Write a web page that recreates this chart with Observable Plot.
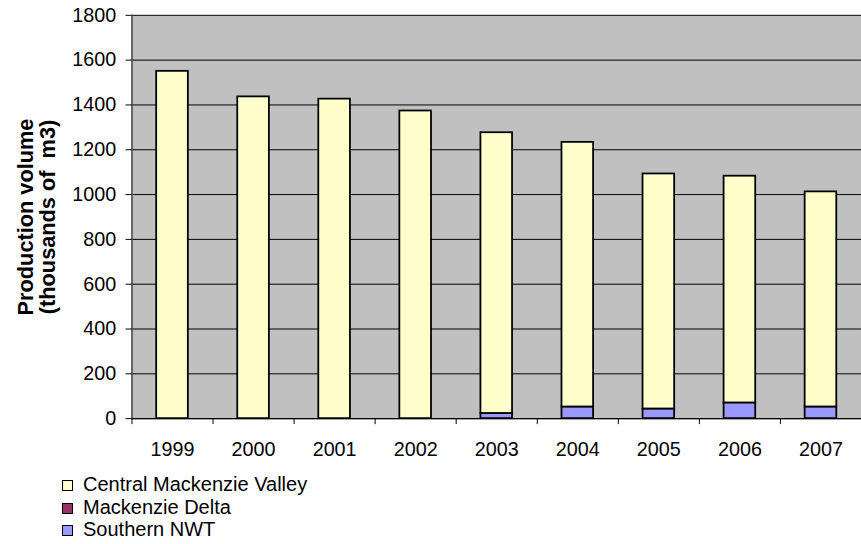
<!DOCTYPE html>
<html>
<head>
<meta charset="utf-8">
<script src="https://cdn.jsdelivr.net/npm/d3@7"></script>
<script src="https://cdn.jsdelivr.net/npm/@observablehq/plot@0.6"></script>
<style>
  html, body { margin: 0; padding: 0; background: #fff; overflow: hidden; }
  #wrap { position: relative; width: 861px; height: 544px; overflow: hidden; font-family: "Liberation Sans", Arial, sans-serif; }
  #chart { position: absolute; left: 0; top: 0; }
  #legend { position: absolute; left: 62px; top: 473px; font-size: 20px; line-height: 22.5px; color: #000; }
  .row { display: flex; align-items: baseline; white-space: nowrap; }
  .sw { display: inline-block; width: 9px; height: 9px; border: 1.2px solid #000; margin-right: 10px; }
</style>
</head>
<body>
<div id="wrap">
  <div id="chart"></div>
  <div id="legend"></div>
</div>
<script>
const years = ["1999", "2000", "2001", "2002", "2003", "2004", "2005", "2006", "2007"];
const centralValley = [1550, 1436, 1426, 1373, 1253, 1181, 1049, 1012, 960];
const mackenzieDelta = [0, 0, 0, 0, 0, 0, 0, 0, 0];
const southernNWT = [0, 0, 0, 0, 23, 52, 43, 70, 52];
const seriesNames = ["Central Mackenzie Valley", "Mackenzie Delta", "Southern NWT"];
const seriesColors = ["#FFFFCC", "#993366", "#9999FF"];
const stackOrder = ["Southern NWT", "Mackenzie Delta", "Central Mackenzie Valley"];
const yTicks = [0, 200, 400, 600, 800, 1000, 1200, 1400, 1600, 1800];
const yTitle = "Production volume\n(thousands of  m3)";

const seriesValues = {
  "Central Mackenzie Valley": centralValley,
  "Mackenzie Delta": mackenzieDelta,
  "Southern NWT": southernNWT
};
const data = years.flatMap((year, i) =>
  stackOrder.map(series => ({year, series, value: seriesValues[series][i]}))
);

const chart = Plot.plot({
  width: 871,
  height: 470,
  marginLeft: 133,
  marginRight: 0,
  marginTop: 15,
  marginBottom: 47,
  style: {fontFamily: "'Liberation Sans', Arial, sans-serif", fontSize: "20px", background: "transparent", color: "#000", overflow: "visible"},
  x: {domain: years, paddingInner: 0.61, paddingOuter: 0.305, axis: null},
  y: {domain: [0, 1800], axis: null},
  color: {domain: seriesNames, range: seriesColors},
  marks: [
    Plot.frame({fill: "#C0C0C0"}),
    Plot.gridY(yTicks, {stroke: "#000", strokeOpacity: 1, strokeWidth: 1}),
    Plot.barY(data, {x: "year", y: "value", fill: "series", stroke: "#000", strokeWidth: 1.8, order: stackOrder}),
    Plot.ruleX([years[0]], {dx: -41, y1: 0, y2: 1800, stroke: "#404040", strokeWidth: 1.5}),
    Plot.ruleY([0], {stroke: "#000", strokeWidth: 1.2}),
    Plot.axisY(yTicks, {tickSize: 6, tickPadding: 10, label: null, stroke: "#000", fontSize: 20, tickFormat: d => String(d)}),
    Plot.axisX({tickSize: 6, tickFormat: () => "", dx: -41, label: null, stroke: "#000"}),
    Plot.axisX({tickSize: 0, tickPadding: 24, label: null, fontSize: 20}),
    Plot.text([yTitle], {frameAnchor: "left", dx: -96, rotate: -90, fontWeight: "bold", fontSize: 22, textAnchor: "middle", lineAnchor: "middle", lineHeight: 1.0, fill: "#000"})
  ]
});
document.getElementById("chart").appendChild(chart);

const legend = document.getElementById("legend");
seriesNames.forEach((name, i) => {
  const row = document.createElement("div");
  row.className = "row";
  const sw = document.createElement("span");
  sw.className = "sw";
  sw.style.background = seriesColors[i];
  const label = document.createElement("span");
  label.textContent = name;
  row.appendChild(sw);
  row.appendChild(label);
  legend.appendChild(row);
});
</script>
</body>
</html>
